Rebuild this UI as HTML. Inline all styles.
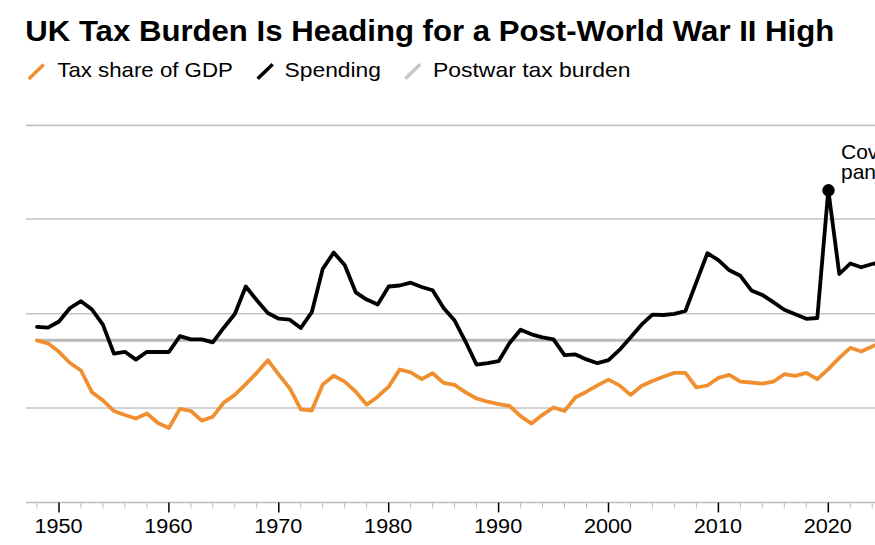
<!DOCTYPE html>
<html><head><meta charset="utf-8"><style>
html,body{margin:0;padding:0;background:#fff;}
body{width:875px;height:545px;overflow:hidden;position:relative;font-family:"Liberation Sans",sans-serif;}
svg{position:absolute;left:0;top:0;}
text{font-family:"Liberation Sans",sans-serif;fill:#000;}
.title{font-weight:bold;font-size:29.5px;}
.lg{font-size:21px;}
.ax{font-size:20px;}
</style></head><body>
<svg width="875" height="545" viewBox="0 0 875 545">
<text x="25.3" y="40.7" class="title" textLength="809" lengthAdjust="spacingAndGlyphs">UK Tax Burden Is Heading for a Post-World War II High</text>
<line x1="28.7" y1="78.9" x2="43.7" y2="64.4" stroke="#f08f30" stroke-width="3.5"/>
<text x="57.3" y="77.4" class="lg" textLength="175.5" lengthAdjust="spacingAndGlyphs">Tax share of GDP</text>
<line x1="257.65" y1="78.85" x2="272.65" y2="64.35" stroke="#000" stroke-width="3.5"/>
<text x="284.5" y="77.4" class="lg" textLength="96.5" lengthAdjust="spacingAndGlyphs">Spending</text>
<line x1="405.25" y1="78.85" x2="420.25" y2="64.35" stroke="#c6c6c6" stroke-width="3.5"/>
<text x="433" y="77.4" class="lg" textLength="197.5" lengthAdjust="spacingAndGlyphs">Postwar tax burden</text>
<g stroke="#c4c4c4" stroke-width="1.6">
<line x1="26" y1="125.4" x2="875" y2="125.4"/>
<line x1="26" y1="219" x2="875" y2="219"/>
<line x1="26" y1="313.8" x2="875" y2="313.8"/>
<line x1="26" y1="408" x2="875" y2="408"/>
</g>
<line x1="26" y1="502.6" x2="875" y2="502.6" stroke="#bbb" stroke-width="1.5"/>
<line x1="37" y1="340.2" x2="875" y2="340.2" stroke="#b9b9b9" stroke-width="3.1"/>
<line x1="37.0" y1="503" x2="37.0" y2="508.5" stroke="#bbb" stroke-width="1"/>
<line x1="59.0" y1="502.6" x2="59.0" y2="512.4" stroke="#000" stroke-width="1.5"/>
<line x1="81.0" y1="503" x2="81.0" y2="508.5" stroke="#bbb" stroke-width="1"/>
<line x1="102.9" y1="503" x2="102.9" y2="508.5" stroke="#bbb" stroke-width="1"/>
<line x1="124.9" y1="503" x2="124.9" y2="508.5" stroke="#bbb" stroke-width="1"/>
<line x1="146.9" y1="503" x2="146.9" y2="508.5" stroke="#bbb" stroke-width="1"/>
<line x1="168.9" y1="502.6" x2="168.9" y2="512.4" stroke="#000" stroke-width="1.5"/>
<line x1="190.9" y1="503" x2="190.9" y2="508.5" stroke="#bbb" stroke-width="1"/>
<line x1="212.8" y1="503" x2="212.8" y2="508.5" stroke="#bbb" stroke-width="1"/>
<line x1="234.8" y1="503" x2="234.8" y2="508.5" stroke="#bbb" stroke-width="1"/>
<line x1="256.8" y1="503" x2="256.8" y2="508.5" stroke="#bbb" stroke-width="1"/>
<line x1="278.8" y1="502.6" x2="278.8" y2="512.4" stroke="#000" stroke-width="1.5"/>
<line x1="300.8" y1="503" x2="300.8" y2="508.5" stroke="#bbb" stroke-width="1"/>
<line x1="322.7" y1="503" x2="322.7" y2="508.5" stroke="#bbb" stroke-width="1"/>
<line x1="344.7" y1="503" x2="344.7" y2="508.5" stroke="#bbb" stroke-width="1"/>
<line x1="366.7" y1="503" x2="366.7" y2="508.5" stroke="#bbb" stroke-width="1"/>
<line x1="388.7" y1="502.6" x2="388.7" y2="512.4" stroke="#000" stroke-width="1.5"/>
<line x1="410.7" y1="503" x2="410.7" y2="508.5" stroke="#bbb" stroke-width="1"/>
<line x1="432.6" y1="503" x2="432.6" y2="508.5" stroke="#bbb" stroke-width="1"/>
<line x1="454.6" y1="503" x2="454.6" y2="508.5" stroke="#bbb" stroke-width="1"/>
<line x1="476.6" y1="503" x2="476.6" y2="508.5" stroke="#bbb" stroke-width="1"/>
<line x1="498.6" y1="502.6" x2="498.6" y2="512.4" stroke="#000" stroke-width="1.5"/>
<line x1="520.6" y1="503" x2="520.6" y2="508.5" stroke="#bbb" stroke-width="1"/>
<line x1="542.5" y1="503" x2="542.5" y2="508.5" stroke="#bbb" stroke-width="1"/>
<line x1="564.5" y1="503" x2="564.5" y2="508.5" stroke="#bbb" stroke-width="1"/>
<line x1="586.5" y1="503" x2="586.5" y2="508.5" stroke="#bbb" stroke-width="1"/>
<line x1="608.5" y1="502.6" x2="608.5" y2="512.4" stroke="#000" stroke-width="1.5"/>
<line x1="630.5" y1="503" x2="630.5" y2="508.5" stroke="#bbb" stroke-width="1"/>
<line x1="652.4" y1="503" x2="652.4" y2="508.5" stroke="#bbb" stroke-width="1"/>
<line x1="674.4" y1="503" x2="674.4" y2="508.5" stroke="#bbb" stroke-width="1"/>
<line x1="696.4" y1="503" x2="696.4" y2="508.5" stroke="#bbb" stroke-width="1"/>
<line x1="718.4" y1="502.6" x2="718.4" y2="512.4" stroke="#000" stroke-width="1.5"/>
<line x1="740.4" y1="503" x2="740.4" y2="508.5" stroke="#bbb" stroke-width="1"/>
<line x1="762.3" y1="503" x2="762.3" y2="508.5" stroke="#bbb" stroke-width="1"/>
<line x1="784.3" y1="503" x2="784.3" y2="508.5" stroke="#bbb" stroke-width="1"/>
<line x1="806.3" y1="503" x2="806.3" y2="508.5" stroke="#bbb" stroke-width="1"/>
<line x1="828.3" y1="502.6" x2="828.3" y2="512.4" stroke="#000" stroke-width="1.5"/>
<line x1="850.3" y1="503" x2="850.3" y2="508.5" stroke="#bbb" stroke-width="1"/>
<line x1="872.2" y1="503" x2="872.2" y2="508.5" stroke="#bbb" stroke-width="1"/>

<text x="58.5" y="532.7" text-anchor="middle" class="ax" textLength="48.2" lengthAdjust="spacingAndGlyphs">1950</text>
<text x="168.4" y="532.7" text-anchor="middle" class="ax" textLength="48.2" lengthAdjust="spacingAndGlyphs">1960</text>
<text x="278.3" y="532.7" text-anchor="middle" class="ax" textLength="48.2" lengthAdjust="spacingAndGlyphs">1970</text>
<text x="388.2" y="532.7" text-anchor="middle" class="ax" textLength="48.2" lengthAdjust="spacingAndGlyphs">1980</text>
<text x="498.1" y="532.7" text-anchor="middle" class="ax" textLength="48.2" lengthAdjust="spacingAndGlyphs">1990</text>
<text x="608.0" y="532.7" text-anchor="middle" class="ax" textLength="48.2" lengthAdjust="spacingAndGlyphs">2000</text>
<text x="717.9" y="532.7" text-anchor="middle" class="ax" textLength="48.2" lengthAdjust="spacingAndGlyphs">2010</text>
<text x="827.8" y="532.7" text-anchor="middle" class="ax" textLength="48.2" lengthAdjust="spacingAndGlyphs">2020</text>

<polyline fill="none" stroke="#f08f30" stroke-width="3.8" stroke-linejoin="round" stroke-linecap="round" points="37.0,340.5 48.0,343.3 59.0,351.8 70.0,363.0 81.0,370.5 92.0,392.3 102.9,400.4 113.9,411.0 124.9,415.0 135.9,418.5 146.9,413.5 157.9,423.0 168.9,428.0 179.9,408.9 190.9,411.0 201.8,420.7 212.8,416.7 223.8,402.6 234.8,394.9 245.8,384.1 256.8,372.8 267.8,360.2 278.8,374.6 289.8,388.4 300.8,409.3 311.8,410.5 322.7,384.6 333.7,375.8 344.7,381.6 355.7,391.7 366.7,404.7 377.7,396.7 388.7,386.6 399.7,369.5 410.7,372.3 421.7,379.1 432.6,373.3 443.6,382.9 454.6,384.9 465.6,392.4 476.6,398.5 487.6,401.7 498.6,404.2 509.6,406.0 520.6,416.1 531.5,423.6 542.5,414.8 553.5,407.5 564.5,411.0 575.5,397.2 586.5,391.7 597.5,385.4 608.5,379.6 619.5,385.4 630.5,394.9 641.5,386.1 652.4,381.1 663.4,376.7 674.4,372.9 685.4,372.9 696.4,387.5 707.4,385.5 718.4,377.9 729.4,374.9 740.4,381.7 751.4,382.5 762.3,383.7 773.3,381.7 784.3,374.2 795.3,375.9 806.3,372.9 817.3,379.2 828.3,369.1 839.3,357.8 850.3,347.8 861.2,351.5 872.2,346.5 883.2,341.5"/>
<polyline fill="none" stroke="#000" stroke-width="3.8" stroke-linejoin="round" stroke-linecap="round" points="37.0,326.8 48.0,327.7 59.0,321.5 70.0,308.0 81.0,301.2 92.0,309.6 102.9,324.6 113.9,353.6 124.9,351.8 135.9,359.6 146.9,351.8 157.9,352.0 168.9,352.0 179.9,336.2 190.9,339.3 201.8,339.3 212.8,342.4 223.8,327.7 234.8,314.0 245.8,286.5 256.8,300.3 267.8,313.0 278.8,318.7 289.8,319.7 300.8,328.0 311.8,312.2 322.7,269.0 333.7,252.6 344.7,265.0 355.7,292.3 366.7,299.6 377.7,304.6 388.7,286.5 399.7,285.5 410.7,282.7 421.7,287.0 432.6,290.3 443.6,308.0 454.6,320.5 465.6,341.8 476.6,364.7 487.6,363.2 498.6,361.2 509.6,343.0 520.6,329.8 531.5,334.3 542.5,337.3 553.5,339.3 564.5,355.2 575.5,354.4 586.5,359.4 597.5,363.2 608.5,360.2 619.5,349.9 630.5,337.6 641.5,324.7 652.4,314.7 663.4,315.0 674.4,313.8 685.4,311.0 696.4,282.1 707.4,253.2 718.4,260.2 729.4,270.3 740.4,275.8 751.4,290.4 762.3,294.9 773.3,302.2 784.3,309.8 795.3,314.3 806.3,318.8 817.3,318.0 828.3,190.0 839.3,274.0 850.3,263.5 861.2,267.3 872.2,264.0 883.2,262.0"/>
<circle cx="828.5" cy="190.3" r="6.2" fill="#000"/>
<text x="841" y="158.8" class="lg">Covid</text>
<text x="841" y="178.6" class="lg">pandemic</text>
</svg>
</body></html>
